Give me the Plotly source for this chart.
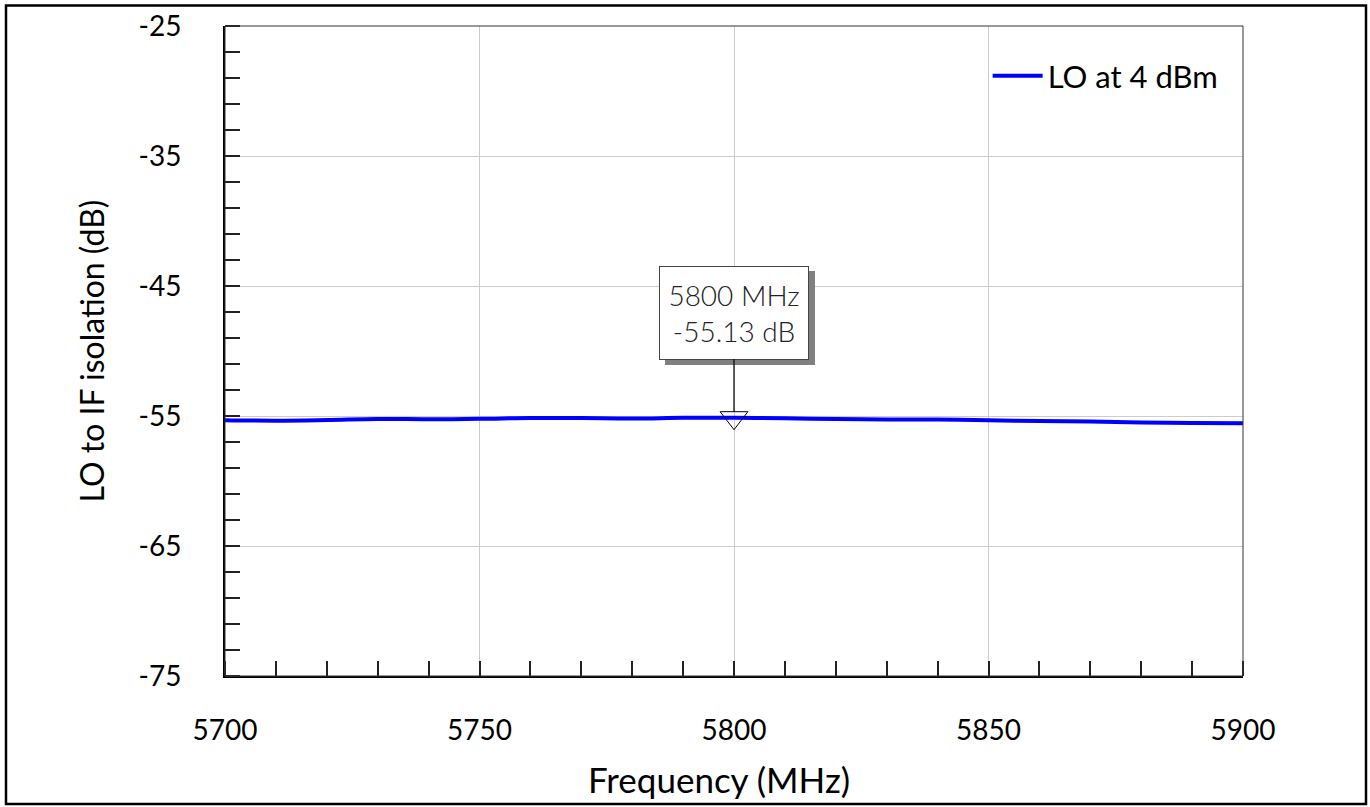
import plotly.graph_objects as go

freq_mhz = [5700, 5710, 5720, 5730, 5740, 5750, 5760, 5770, 5780, 5790, 5800,
            5810, 5820, 5830, 5840, 5850, 5860, 5870, 5880, 5890, 5900]
isolation_db = [-55.32, -55.36, -55.31, -55.23, -55.25, -55.22, -55.15, -55.16, -55.19, -55.14, -55.13,
                -55.18, -55.23, -55.27, -55.27, -55.33, -55.38, -55.42, -55.50, -55.54, -55.56]
series_name = "LO at 4 dBm"
marker_freq = 5800
marker_val = -55.13
x_ticks = [5700, 5750, 5800, 5850, 5900]
y_ticks = [-75, -65, -55, -45, -35, -25]

FONT = "Source Sans Pro, Lato, Noto Sans, sans-serif"

fig = go.Figure()
fig.add_trace(go.Scatter(
    x=freq_mhz, y=isolation_db, mode="lines", name=series_name,
    line=dict(color="#0000ff", width=4, shape="spline"),
))
fig.add_trace(go.Scatter(
    x=[marker_freq], y=[marker_val], mode="markers", showlegend=False, hoverinfo="skip",
    marker=dict(symbol="triangle-down-open", size=24, color="black", line=dict(width=1, color="black")),
))

label = f"{marker_freq} MHz<br>{marker_val:.2f} dB"
# drop shadow of the label box
fig.add_annotation(
    x=marker_freq, y=marker_val, text="&nbsp;", showarrow=True, arrowcolor="rgba(0,0,0,0)",
    ax=6, ay=-100,
    font=dict(family=FONT, size=28, color="#808080"),
    bgcolor="#808080", bordercolor="#808080", borderwidth=1, borderpad=4,
    width=140, height=84,
)
fig.add_annotation(
    x=marker_freq, y=marker_val, text=label, showarrow=True, arrowhead=0,
    arrowwidth=1.2, arrowcolor="black", standoff=6,
    ax=0, ay=-105,
    font=dict(family=FONT, size=28, color="#222222", weight=300),
    bgcolor="white", bordercolor="#444444", borderwidth=1, borderpad=4,
    width=140, height=84,
)

L, R, T, B = 225, 127, 26, 131
W, H = 1370, 807
pw, ph = W - L - R, H - T - B

def px_to_paper(xp, yp):
    return (xp - L) / pw, (H - B - yp) / ph

# plot frame (thin top/right)
fig.add_shape(type="rect", xref="paper", yref="paper", x0=0, x1=1, y0=0, y1=1,
              line=dict(color="#333333", width=1), layer="above")
# outer figure border
x0, y1 = px_to_paper(6, 5.5)
x1, y0 = px_to_paper(1366, 804)
fig.add_shape(type="rect", xref="paper", yref="paper", x0=x0, x1=x1, y0=y0, y1=y1,
              line=dict(color="black", width=2.5), layer="above")

# x-axis title (slightly left of centre, as in the reference)
tx, ty = px_to_paper(719, 779)
fig.add_annotation(
    x=tx, y=ty, xref="paper", yref="paper", text="Frequency (MHz)", showarrow=False,
    xanchor="center", yanchor="middle", font=dict(family=FONT, size=35, color="black"),
)

fig.update_layout(
    width=W, height=H,
    margin=dict(l=L, r=R, t=T, b=B, autoexpand=False),
    paper_bgcolor="white", plot_bgcolor="white",
    font=dict(family=FONT, size=28, color="black"),
    showlegend=True,
    legend=dict(x=0.981, xanchor="right", y=0.923, yanchor="middle",
                bgcolor="rgba(0,0,0,0)", font=dict(size=31), itemwidth=50),
    xaxis=dict(
        range=[5700, 5900], tickvals=x_ticks, ticktext=[str(v) for v in x_ticks],
        showgrid=True, gridcolor="#cccccc", gridwidth=1, automargin=False,
        showline=True, linecolor="black", linewidth=2, ticks="",
        ticklabelstandoff=28, zeroline=False,
        minor=dict(dtick=10, tick0=5700, ticks="inside", ticklen=15, tickcolor="#222222", tickwidth=1.5, showgrid=False),
    ),
    yaxis=dict(
        range=[-75, -25], tickvals=y_ticks, ticktext=[str(v) for v in y_ticks],
        showgrid=True, gridcolor="#cccccc", gridwidth=1, automargin=False,
        showline=True, linecolor="black", linewidth=2, ticks="",
        ticklabelstandoff=36, zeroline=False,
        minor=dict(dtick=2, tick0=-75, ticks="inside", ticklen=15, tickcolor="#222222", tickwidth=1.5, showgrid=False),
        title=dict(text="LO to IF isolation (dB)", standoff=24, font=dict(size=32)),
    ),
)

fig.write_html("out.html")
